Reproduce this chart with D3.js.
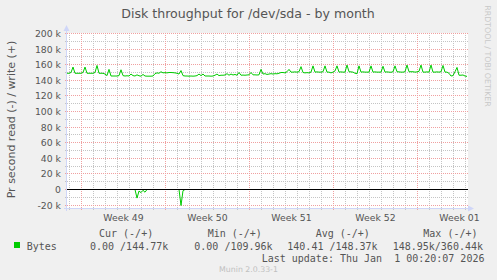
<!DOCTYPE html>
<html><head><meta charset="utf-8">
<script src="https://cdn.jsdelivr.net/npm/d3@7"></script>
<style>
html,body{margin:0;padding:0;background:#f0f0f0;}
svg{display:block;}
text{white-space:pre;}
</style></head>
<body>
<script>
// ---------- data ----------
const title = "Disk throughput for /dev/sda - by month";
const yTitle = "Pr second read (-) / write (+)";
const yTicks = [-20, 0, 20, 40, 60, 80, 100, 120, 140, 160, 180, 200];
const yTickLabels = ["-20 k", "0", "20 k", "40 k", "60 k", "80 k", "100 k", "120 k", "140 k", "160 k", "180 k", "200 k"];
const weekStarts = ["2025-12-01", "2025-12-08", "2025-12-15", "2025-12-22", "2025-12-29"];
const weekLabels = ["Week 49", "Week 50", "Week 51", "Week 52", "Week 01"];
const rangeStart = "2025-11-29T19:00:00Z";
const rangeEnd = "2026-01-02T03:00:00Z";
const sampleHours = 4;
// write (+) throughput, k bytes/s, one sample per 4 h
const writeValues = [
149,149,150,157,149,149,149,149,150,157,
149,149,149,149,150,159,149,149,149,148,
146,154,145.5,145.5,145.5,145.5,146,153.5,146,145.5,
145.8,145.5,148,146,145.5,147,145.8,145.3,147.5,145.5,
145.3,145.3,145.3,145.5,148.5,149.5,149,151,149.5,149.8,
149.5,150,150,149.8,149.5,149,148,152.5,146,145.5,
145.5,145.3,145.5,145.3,145.5,146,148,146,148,145.5,
145.5,145.5,145.3,145.5,146.5,148,146,146.5,146.5,146.8,
148.5,146.5,148,146.8,147.5,146.5,150,146.5,146.7,146.5,
146.8,147,150,147,147,146.8,147,154,148,148.5,
147.5,148,148.5,148,148.5,148.3,149,150,150,149.5,
151,154,150.5,150.5,150.8,150.5,151,157.5,150,149.5,
149.8,149.5,150.5,158.5,150.5,150.8,150.5,150.5,151,158.5,
150.5,150.5,149.5,150.5,152,158.5,150.5,150.8,150.5,150.5,
159.5,151,150.8,150.5,149,148.5,158.5,150.5,150.8,150.5,
150.5,150.5,158.5,150.5,150.8,150.5,150.5,150.5,158,150.5,
150.8,150.5,150.3,151,158.5,151,150.8,150.5,150.5,151,
159.5,151,151,151,150.5,150.8,151.5,159.5,150.5,150.5,
150.8,150.5,159.5,150.5,150.5,150.8,150.5,151,159,150.5,
150.5,149,145.5,146,151,156.5,146.5,146.5,146.8,145.5,
145
];
// read (-) throughput, k bytes/s (drawn negative)
const readValues = [
0,0,0,0,0,0,0,0,0,0, 0,0,0,0,0,0,0,0,0,0,
0,0,0,0,0,0,0,0,0,0, 0,0,0,0,0,11,2,4,1,3.5,
0,0,0,0,0,0,0,0,0,0, 0,0,0,0,0,0,0,20.5,1.5,0,
0,0,0,0,0,0,0,0,0,0, 0,0,0,0,0,0,0,0,0,0,
0,0,0,0,0,0,0,0,0,0, 0,0,0,0,0,0,0,0,0,0,
0,0,0,0,0,0,0,0,0,0, 0,0,0,0,0,0,0,0,0,0,
0,0,0,0,0,0,0,0,0,0, 0,0,0,0,0,0,0,0,0,0,
0,0,0,0,0,0,0,0,0,0, 0,0,0,0,0,0,0,0,0,0,
0,0,0,0,0,0,0,0,0,0, 0,0,0,0,0,0,0,0,0,0,
0,0,0,0,0,0,0,0,0,0, 0,0,0,0,0,0,0,0,0,0,
0
];
const legendName = "Bytes";
const legendHeaders = ["Cur (-/+)", "Min (-/+)", "Avg (-/+)", "Max (-/+)"];
const legendValues = ["0.00 /144.77k", "0.00 /109.96k", "140.41 /148.37k", "148.95k/360.44k"];
const lastUpdate = "Last update: Thu Jan  1 00:20:07 2026";
const footer = "Munin 2.0.33-1";
const watermark = "RRDTOOL / TOBI OETIKER";

// ---------- layout ----------
const W = 497, H = 280;
const L = 67, R = 467, T = 33, B = 208;
const seriesColor = "#00cc00";
const textColor = "#555555";

const svg = d3.select("body").append("svg").attr("width", W).attr("height", H);
svg.append("rect").attr("width", W).attr("height", H).attr("fill", "#f0f0f0");

const t0 = new Date(rangeStart), t1 = new Date(rangeEnd);
const x = d3.scaleUtc().domain([t0, t1]).range([L, R]);
const y = d3.scaleLinear().domain([0, 200]).range([189.5, 33.5]);
const px = v => Math.floor(v) + 0.5;

// plot background
svg.append("rect").attr("x", L - 1).attr("y", T).attr("width", R - L + 2).attr("height", B - T)
  .attr("fill", "#ffffff");

const grid = svg.append("g").attr("shape-rendering", "crispEdges");
// minor horizontal grid every 10k
const minorY = d3.range(-20, 201, 10).filter(v => v % 20 !== 0);
grid.selectAll("line.mh").data(minorY).join("line")
  .attr("x1", L - 2).attr("x2", R + 2)
  .attr("y1", d => px(y(d))).attr("y2", d => px(y(d)))
  .attr("stroke", "#c4c4c4").attr("stroke-dasharray", "1,1");
// minor vertical grid every day
const days = d3.utcDay.range(t0, t1);
grid.selectAll("line.mv").data(days).join("line")
  .attr("x1", d => px(x(d))).attr("x2", d => px(x(d)))
  .attr("y1", T).attr("y2", B + 3)
  .attr("stroke", "#c4c4c4").attr("stroke-dasharray", "1,1");
// major horizontal grid
grid.selectAll("line.Mh").data(yTicks).join("line")
  .attr("x1", L - 2).attr("x2", R + 2)
  .attr("y1", d => px(y(d))).attr("y2", d => px(y(d)))
  .attr("stroke", "#f0a0a0").attr("stroke-dasharray", "1,1");
// major vertical grid (weeks)
const weeks = weekStarts.map(s => new Date(s + "T00:00:00Z"));
grid.selectAll("line.Mv").data(weeks).join("line")
  .attr("x1", d => px(x(d))).attr("x2", d => px(x(d)))
  .attr("y1", T).attr("y2", B + 3)
  .attr("stroke", "#f0a0a0").attr("stroke-dasharray", "1,1");

// y tick labels
svg.append("g").selectAll("text").data(yTicks).join("text")
  .attr("x", 61).attr("y", d => px(y(d)) + 3)
  .attr("text-anchor", "end")
  .attr("font-family", "DejaVu Sans").attr("font-size", 9.3).attr("fill", textColor)
  .text((d, i) => yTickLabels[i]);

// x labels centred in each week
svg.append("g").selectAll("text").data(weeks).join("text")
  .attr("x", d => x(d3.utcHour.offset(d, 84)))
  .attr("y", 220.5)
  .attr("text-anchor", "middle")
  .attr("font-family", "DejaVu Sans").attr("font-size", 9.3).attr("fill", textColor)
  .text((d, i) => weekLabels[i]);

// series
const times = writeValues.map((v, i) => d3.utcHour.offset(t0, i * sampleHours));
const line = d3.line().x(d => x(d[0])).y(d => y(d[1]));
svg.append("path").datum(times.map((t, i) => [t, -readValues[i]]))
  .attr("d", line).attr("fill", "none").attr("stroke", seriesColor).attr("stroke-width", 1);
svg.append("path").datum(times.map((t, i) => [t, writeValues[i]]))
  .attr("d", line).attr("fill", "none").attr("stroke", seriesColor).attr("stroke-width", 1);

// zero line
svg.append("line").attr("x1", L).attr("x2", R + 1)
  .attr("y1", px(y(0))).attr("y2", px(y(0)))
  .attr("stroke", "#000").attr("stroke-width", 1).attr("shape-rendering", "crispEdges");

// axes with arrows
const axisColor = "#cfd6f8";
svg.append("line").attr("x1", L - 0.5).attr("x2", L - 0.5).attr("y1", B + 3).attr("y2", 29)
  .attr("stroke", axisColor).attr("shape-rendering", "crispEdges");
svg.append("line").attr("x1", L - 3).attr("x2", R + 2).attr("y1", B + 0.5).attr("y2", B + 0.5)
  .attr("stroke", axisColor).attr("shape-rendering", "crispEdges");
svg.append("path").attr("d", `M${L - 3.5},${31} L${L - 0.5},${25} L${L + 2.5},${31} Z`).attr("fill", axisColor);
svg.append("path").attr("d", `M${R + 1},${B - 2.5} L${R + 7},${B + 0.5} L${R + 1},${B + 3.5} Z`).attr("fill", axisColor);

// title
svg.append("text").attr("x", 248).attr("y", 18).attr("text-anchor", "middle")
  .attr("font-family", "DejaVu Sans").attr("font-size", 12.6).attr("fill", textColor).text(title);

// y title
svg.append("text").attr("transform", "translate(15,119.5) rotate(-90)")
  .attr("text-anchor", "middle")
  .attr("font-family", "DejaVu Sans").attr("font-size", 11).attr("fill", textColor).text(yTitle);

// watermark
svg.append("text").attr("transform", "translate(485,56) rotate(90)")
  .attr("text-anchor", "middle")
  .attr("font-family", "DejaVu Sans").attr("font-size", 7.9).attr("fill", "#c8c8c8").text(watermark);

// legend
const mono = "DejaVu Sans Mono";
svg.append("rect").attr("x", 14).attr("y", 242).attr("width", 6).attr("height", 6).attr("fill", seriesColor);
svg.append("text").attr("x", 26.7).attr("y", 249.5).attr("font-family", mono).attr("font-size", 10)
  .attr("fill", textColor).text(legendName);
const headerX = [99, 207.7, 315.7, 423.3];
const valueX = [90, 194.3, 287.3, 392.7];
svg.append("g").selectAll("text").data(legendHeaders).join("text")
  .attr("x", (d, i) => headerX[i]).attr("y", 236.5)
  .attr("font-family", mono).attr("font-size", 10).attr("fill", textColor).text(d => d);
svg.append("g").selectAll("text").data(legendValues).join("text")
  .attr("x", (d, i) => valueX[i]).attr("y", 249.5)
  .attr("font-family", mono).attr("font-size", 10).attr("fill", textColor).text(d => d);
svg.append("text").attr("x", 261.7).attr("y", 261.5).attr("font-family", mono).attr("font-size", 10)
  .attr("fill", textColor).text(lastUpdate);
svg.append("text").attr("x", 248.5).attr("y", 272).attr("text-anchor", "middle")
  .attr("font-family", "DejaVu Sans").attr("font-size", 7.8).attr("fill", "#c0c0c0").text(footer);
</script>
</body></html>
